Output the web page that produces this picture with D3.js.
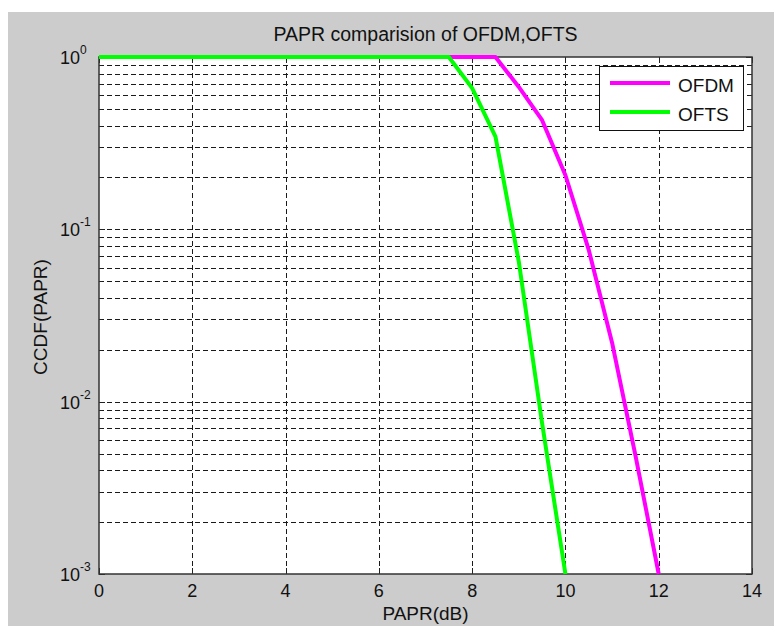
<!DOCTYPE html>
<html>
<head>
<meta charset="utf-8">
<script src="https://cdn.jsdelivr.net/npm/d3@7"></script>
<style>
  html, body { margin: 0; padding: 0; background: #ffffff; }
  svg { display: block; }
  text { font-family: "Liberation Sans", Arial, Helvetica, sans-serif; fill: #111; }
</style>
</head>
<body>
<svg id="chart" width="774" height="626"></svg>
<script>
// ---- data ----
const titleText = "PAPR comparision of OFDM,OFTS";
const xLabelText = "PAPR(dB)";
const yLabelText = "CCDF(PAPR)";

const xTicks = [0, 2, 4, 6, 8, 10, 12, 14];
const yDecades = [0, -1, -2, -3];           // exponents of the labelled y ticks

const ofdmX = [0, 0.5, 1, 1.5, 2, 2.5, 3, 3.5, 4, 4.5, 5, 5.5, 6, 6.5, 7, 7.5, 8, 8.5, 9, 9.5, 10, 10.5, 11, 11.5, 12];
const ofdmY = [1, 1, 1, 1, 1, 1, 1, 1, 1, 1, 1, 1, 1, 1, 1, 1, 1, 1, 0.67, 0.43, 0.206, 0.076, 0.022, 0.0049, 0.001];

const oftsX = [0, 0.5, 1, 1.5, 2, 2.5, 3, 3.5, 4, 4.5, 5, 5.5, 6, 6.5, 7, 7.5, 8, 8.5, 9, 9.5, 10];
const oftsY = [1, 1, 1, 1, 1, 1, 1, 1, 1, 1, 1, 1, 1, 1, 1, 1, 0.66, 0.345, 0.065, 0.0075, 0.001];

const seriesNames = ["OFDM", "OFTS"];
const seriesColors = ["#ff00ff", "#00ff00"];

(function () {
// ---- layout ----
const W = 774, H = 626;
const pL = 99, pR = 752, pT = 57, pB = 574;

const svg = d3.select("#chart");

// figure background (gray, MATLAB style)
svg.append("rect").attr("x", 8).attr("y", 12).attr("width", W - 8).attr("height", H - 12).attr("fill", "#cccccc");

const x = d3.scaleLinear().domain([0, 14]).range([pL, pR]);
const y = d3.scaleLog().domain([1e-3, 1]).range([pB, pT]);

// plot area
svg.append("rect").attr("x", pL).attr("y", pT).attr("width", pR - pL).attr("height", pB - pT).attr("fill", "#ffffff");

// grid lines
const grid = svg.append("g").attr("stroke", "#1a1a1a").attr("stroke-width", 1).attr("stroke-dasharray", "5,3").attr("fill", "none");
xTicks.filter(t => t > 0 && t < 14).forEach(t => {
  const px = Math.round(x(t)) + 0.5;
  grid.append("line").attr("x1", px).attr("x2", px).attr("y1", pT).attr("y2", pB);
});
const yGridVals = y.ticks().filter(v => v > 1.0001e-3 && v < 0.9999);
yGridVals.forEach(v => {
  const py = Math.round(y(v)) + 0.5;
  grid.append("line").attr("x1", pL).attr("x2", pR).attr("y1", py).attr("y2", py);
});

// tick marks (inside, MATLAB style)
const ticks = svg.append("g").attr("stroke", "#222").attr("stroke-width", 1);
xTicks.forEach(t => {
  const px = Math.round(x(t)) + 0.5;
  ticks.append("line").attr("x1", px).attr("x2", px).attr("y1", pB).attr("y2", pB - 6);
  ticks.append("line").attr("x1", px).attr("x2", px).attr("y1", pT).attr("y2", pT + 6);
});
y.ticks().forEach(v => {
  const py = Math.round(y(v)) + 0.5;
  const major = Math.abs(Math.log10(v) - Math.round(Math.log10(v))) < 1e-9;
  const len = major ? 6 : 3;
  ticks.append("line").attr("x1", pL).attr("x2", pL + len).attr("y1", py).attr("y2", py);
  ticks.append("line").attr("x1", pR).attr("x2", pR - len).attr("y1", py).attr("y2", py);
});

// axes box
svg.append("rect").attr("x", pL).attr("y", pT).attr("width", pR - pL).attr("height", pB - pT)
  .attr("fill", "none").attr("stroke", "#333").attr("stroke-width", 1.5);

// x tick labels
xTicks.forEach(t => {
  svg.append("text").attr("x", x(t)).attr("y", 597).attr("text-anchor", "middle")
    .attr("font-size", 18).text(t);
});

// y tick labels 10^k
yDecades.forEach(k => {
  const py = y(Math.pow(10, k));
  const t = svg.append("text").attr("x", 60).attr("y", py + 7).attr("font-size", 18);
  t.append("tspan").text("10");
  t.append("tspan").attr("font-size", 12).attr("dy", -10).text(k);
});

// series lines
const line = d3.line().x(d => x(d[0])).y(d => y(d[1]));
const seriesData = [
  ofdmX.map((v, i) => [v, ofdmY[i]]),
  oftsX.map((v, i) => [v, oftsY[i]])
];
seriesData.forEach((d, i) => {
  svg.append("path").datum(d).attr("d", line).attr("fill", "none")
    .attr("stroke", seriesColors[i]).attr("stroke-width", 4).attr("stroke-linejoin", "round");
});

// title and axis labels
svg.append("text").attr("x", (pL + pR) / 2).attr("y", 41).attr("text-anchor", "middle")
  .attr("font-size", 19.5).text(titleText);
svg.append("text").attr("x", (pL + pR) / 2).attr("y", 620).attr("text-anchor", "middle")
  .attr("font-size", 19).text(xLabelText);
svg.append("text").attr("transform", "translate(47," + 317 + ") rotate(-90)").attr("text-anchor", "middle")
  .attr("font-size", 19).text(yLabelText);

// legend
const lg = svg.append("g");
lg.append("rect").attr("x", 599.5).attr("y", 66.5).attr("width", 144).attr("height", 64)
  .attr("fill", "#ffffff").attr("stroke", "#111").attr("stroke-width", 1);
seriesNames.forEach((name, i) => {
  const ly = 83 + i * 29;
  lg.append("line").attr("x1", 610).attr("x2", 670).attr("y1", ly).attr("y2", ly)
    .attr("stroke", seriesColors[i]).attr("stroke-width", 4);
  lg.append("text").attr("x", 678).attr("y", ly + 9).attr("font-size", 19).text(name);
});
})();
</script>
</body>
</html>
